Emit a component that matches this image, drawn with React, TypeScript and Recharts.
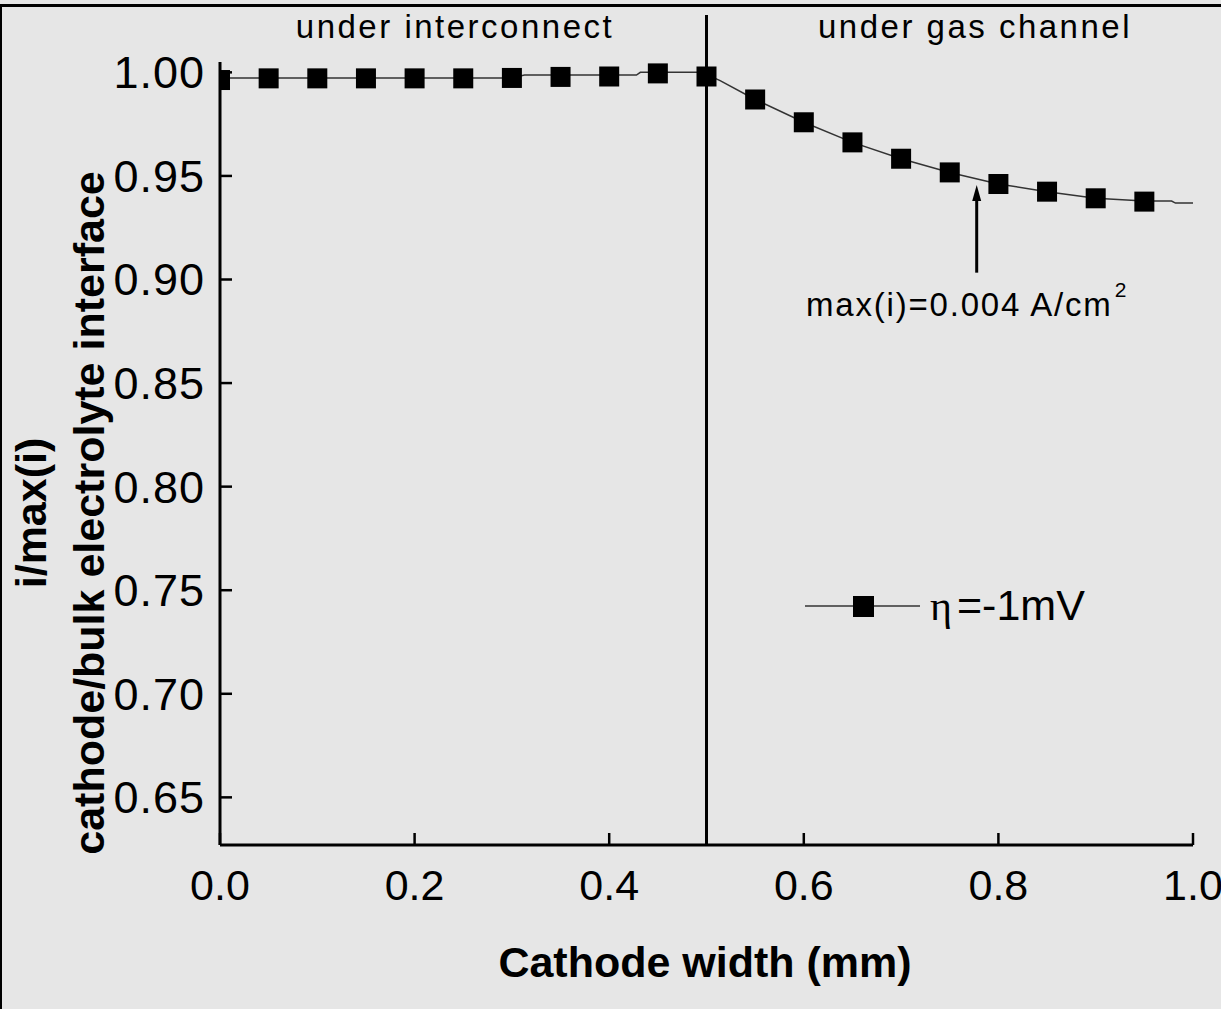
import React from 'react';
import {
  ComposedChart,
  Line,
  Scatter,
  XAxis,
  YAxis,
  ReferenceLine,
  Customized,
} from 'recharts';

// marker points (every 0.05 mm)
const markerX = [0, 0.05, 0.1, 0.15, 0.2, 0.25, 0.3, 0.35, 0.4, 0.45, 0.5, 0.55, 0.6, 0.65, 0.7, 0.75, 0.8, 0.85, 0.9, 0.95];
const markerY = [0.9963, 0.9971, 0.9971, 0.9971, 0.9971, 0.9971, 0.9973, 0.9978, 0.998, 0.9995, 0.998, 0.9869, 0.9759, 0.9662, 0.9583, 0.9517, 0.9461, 0.9424, 0.9392, 0.9376];

// fine solution line
const lineX = [0, 0.3, 0.313, 0.428, 0.432, 0.495, 0.514, 0.55, 0.6, 0.65, 0.7, 0.75, 0.8, 0.85, 0.9, 0.95, 0.978, 0.982, 1.0];
const lineY = [0.9973, 0.9973, 0.9987, 0.9987, 1.0, 1.0, 0.996, 0.9869, 0.9759, 0.9662, 0.9583, 0.9517, 0.9461, 0.9424, 0.9392, 0.9379, 0.9379, 0.9369, 0.9369];

const xTicks = [0, 0.2, 0.4, 0.6, 0.8, 1.0];
const yTicks = [0.65, 0.7, 0.75, 0.8, 0.85, 0.9, 0.95, 1.0];

const seriesLabel = '=-1mV';
const regionLabels = ['under interconnect', 'under gas channel'];
const noteText = 'max(i)=0.004 A/cm';
const xTitle = 'Cathode width (mm)';
const yTitle = ['i/max(i)', 'cathode/bulk electrolyte interface'];

const markerData = markerX.map((x, i) => ({ x, y: markerY[i] }));
const lineData = lineX.map((x, i) => ({ x, y: lineY[i] }));

const SANS = '"Liberation Sans", Arial, sans-serif';

const Square = (p: any) => (
  <rect x={p.cx - 10} y={p.cy - 10} width={20} height={20} fill="#000" />
);

const Arrow = (p: any) => {
  const tipY = Math.min(p.y1, p.y2);
  const baseY = Math.max(p.y1, p.y2);
  const x = p.x1;
  return (
    <g>
      <line x1={x} y1={baseY} x2={x} y2={tipY + 10} stroke="#000" strokeWidth={3} />
      <polygon points={`${x},${tipY} ${x - 4.5},${tipY + 16} ${x + 4.5},${tipY + 16}`} fill="#000" />
    </g>
  );
};

const Annotations = () => (
  <g fontFamily={SANS} fill="#000">
    <text x={455} y={38} fontSize={33} letterSpacing={2.5} textAnchor="middle">{regionLabels[0]}</text>
    <text x={975} y={38} fontSize={33} letterSpacing={2.5} textAnchor="middle">{regionLabels[1]}</text>

    <text x={806} y={316} fontSize={33} letterSpacing={1.8}>
      {noteText}
      <tspan fontSize={21} dy={-19} dx={2}>2</tspan>
    </text>

    {/* legend */}
    <line x1={805} y1={606} x2={920} y2={606} stroke="#333" strokeWidth={1.5} />
    <rect x={853} y={596} width={21} height={21} fill="#000" />
    <text x={930} y={620} fontSize={42} fontFamily='"Liberation Serif", "DejaVu Serif", serif'>η</text>
    <text x={957} y={620} fontSize={43}>{seriesLabel}</text>

    {/* axis titles */}
    <text x={705} y={977} fontSize={43} fontWeight="bold" textAnchor="middle">{xTitle}</text>
    <text
      x={31}
      y={513}
      fontSize={43}
      fontWeight="bold"
      textAnchor="middle"
      dominantBaseline="central"
      transform="rotate(-90 31 513)"
    >
      {yTitle[0]}
    </text>
    <text
      x={89}
      y={513}
      fontSize={43}
      fontWeight="bold"
      textAnchor="middle"
      dominantBaseline="central"
      transform="rotate(-90 89 513)"
    >
      {yTitle[1]}
    </text>
  </g>
);

export default function App() {
  return (
    <div
      style={{
        position: 'absolute',
        left: 0,
        top: 0,
        width: 1221,
        height: 1009,
        background: '#e6e6e6',
        fontFamily: SANS,
        overflow: 'hidden',
      }}
    >
      <div style={{ position: 'absolute', left: 0, top: 4, width: 1221, height: 3, background: '#000' }} />
      <div style={{ position: 'absolute', left: 0, top: 4, width: 2, height: 1005, background: '#000' }} />
      <ComposedChart
        width={1221}
        height={1009}
        margin={{ top: 62, right: 28, bottom: 0, left: 0 }}
        style={{ position: 'absolute', left: 0, top: 0 }}
      >
        <XAxis
          type="number"
          dataKey="x"
          domain={[0, 1]}
          ticks={xTicks}
          interval={0}
          allowDataOverflow
          height={164}
          tickSize={-12}
          tickMargin={36}
          tickFormatter={(v: number) => v.toFixed(1)}
          tick={{ fill: '#000', fontSize: 43, fontFamily: SANS }}
          axisLine={{ stroke: '#000', strokeWidth: 3 }}
          tickLine={{ stroke: '#000', strokeWidth: 2.5 }}
        />
        <YAxis
          type="number"
          dataKey="y"
          domain={[0.627, 1.005]}
          ticks={yTicks}
          interval={0}
          width={220}
          tickSize={-12}
          tickMargin={27}
          tickFormatter={(v: number) => v.toFixed(2)}
          tick={{ fill: '#000', fontSize: 45, fontFamily: SANS, letterSpacing: 1 }}
          axisLine={{ stroke: '#000', strokeWidth: 3 }}
          tickLine={{ stroke: '#000', strokeWidth: 2.5 }}
        />
        <ReferenceLine
          segment={[{ x: 0.5, y: 0.627 }, { x: 0.5, y: 1.0277 }]}
          stroke="#000"
          strokeWidth={3}
          ifOverflow="visible"
        />
        <Line
          data={lineData}
          dataKey="y"
          type="linear"
          stroke="#333"
          strokeWidth={1.5}
          dot={false}
          activeDot={false}
          isAnimationActive={false}
        />
        <Scatter data={markerData} dataKey="y" shape={Square} isAnimationActive={false} />
        <ReferenceLine
          segment={[{ x: 0.7777, y: 0.9033 }, { x: 0.7777, y: 0.9456 }]}
          shape={Arrow}
          ifOverflow="visible"
        />
        <Customized component={<Annotations />} />
      </ComposedChart>
    </div>
  );
}
